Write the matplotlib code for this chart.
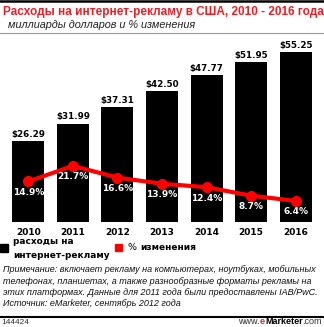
import matplotlib.pyplot as plt
from matplotlib.patches import Rectangle
from matplotlib.lines import Line2D

years = ['2010', '2011', '2012', '2013', '2014', '2015', '2016']
spend = [26.29, 31.99, 37.31, 42.50, 47.77, 51.95, 55.25]
change = [14.9, 21.7, 16.6, 13.9, 12.4, 8.7, 6.4]

W, H = 324, 327
fig = plt.figure(figsize=(W / 100, H / 100), dpi=100)
SANS = 'Liberation Sans'


def fx(px):
    return px / W


def fy(py):
    return 1 - py / H


# frame lines
fig.add_artist(Line2D([0, 1], [fy(1), fy(1)], color='black', lw=1.8))
fig.add_artist(Line2D([0, 1], [fy(33), fy(33)], color='#999999', lw=0.8))
fig.add_artist(Line2D([0, 1], [fy(316.5), fy(316.5)], color='black', lw=1.5))

fig.text(fx(3), fy(12), 'Расходы на интернет-рекламу в США, 2010 - 2016 года',
         color='#ee1c24', fontsize=8.45, fontweight='bold', family=SANS,
         va='center', ha='left')
fig.text(fx(8), fy(24.5), 'миллиарды долларов и % изменения', family=SANS,
         fontsize=7.8, style='italic', va='center', ha='left', color='#222222')

# bar axes
ax = fig.add_axes([fx(6), fy(222), fx(312), (222 - 45) / H])
x = range(len(years))
ax.bar(x, spend, width=0.72, color='black')
for i, v in enumerate(spend):
    ax.text(i, v + 0.8, f'${v:.2f}', ha='center', va='bottom',
            fontsize=6.3, fontweight='bold')
ax.set_xlim(-0.5, len(years) - 0.5)
ax.set_ylim(0, 57.6)
ax.set_xticks(list(x))
ax.set_xticklabels(years, fontsize=6.5, fontweight='bold')
ax.tick_params(axis='x', length=0, pad=4)
ax.set_yticks([])
for s in ax.spines.values():
    s.set_visible(False)

ax2 = ax.twinx()
ax2.plot(x, change, color='#ff0000', lw=3, marker='o', markersize=7,
         solid_capstyle='round')
for i, v in enumerate(change):
    ax2.text(i, v - 4.8, f'{v}%', ha='center', va='center', color='white',
             fontsize=6.5, fontweight='bold')
ax2.set_ylim(-2.8, 74.5)
ax2.set_yticks([])
for s in ax2.spines.values():
    s.set_visible(False)

# legend
fig.add_artist(Rectangle((fx(0), fy(251.5)), fx(8), 7.5 / H, color='black',
                         transform=fig.transFigure))
fig.text(fx(13), fy(241.5), 'расходы на', fontsize=6.5, fontweight='bold',
         va='center', ha='left')
fig.text(fx(13), fy(255.5), 'интернет-рекламу', fontsize=6.5, fontweight='bold',
         va='center', ha='left')
fig.add_artist(Rectangle((fx(115), fy(251)), fx(7), 7 / H, color='#ff0000',
                         transform=fig.transFigure))
fig.text(fx(127), fy(248), '%', fontsize=6.8, va='center', ha='left')
fig.text(fx(140), fy(248), 'изменения', fontsize=6.5, fontweight='bold',
         va='center', ha='left')

note = ['Примечание: включает рекламу на компьютерах, ноутбуках, мобильных',
        'телефонах, планшетах, а также разнообразные форматы рекламы на',
        'этих платформах. Данные для 2011 года были предоставлены IAB/PwC.',
        'Источник: eMarketer, сентябрь 2012 года']
for k, line in enumerate(note):
    fig.text(fx(3), fy(270 + k * 11.2), line, fontsize=6.5, style='italic',
             family=SANS, va='center', ha='left', color='#111111')

fig.text(fx(1), fy(322), '144424', fontsize=6, color='#333333', family=SANS,
         va='center', ha='left')

# footer url, pieces chained by measured width, right-aligned at x=322
renderer = fig.canvas.get_renderer()
pieces = [('www.', '#333333', 'normal'), ('e', '#ee1c24', 'bold'),
          ('Marketer', 'black', 'bold'), ('.com', '#333333', 'normal')]
texts = []
for txt, col, wt in pieces:
    texts.append(fig.text(0, fy(322), txt, fontsize=6.5, color=col,
                          fontweight=wt, family=SANS, va='center', ha='left'))
widths = [t.get_window_extent(renderer).width for t in texts]
pos = 322 - sum(widths)
for t, w in zip(texts, widths):
    t.set_x(fx(pos))
    pos += w

fig.savefig('out.png', dpi=100)
